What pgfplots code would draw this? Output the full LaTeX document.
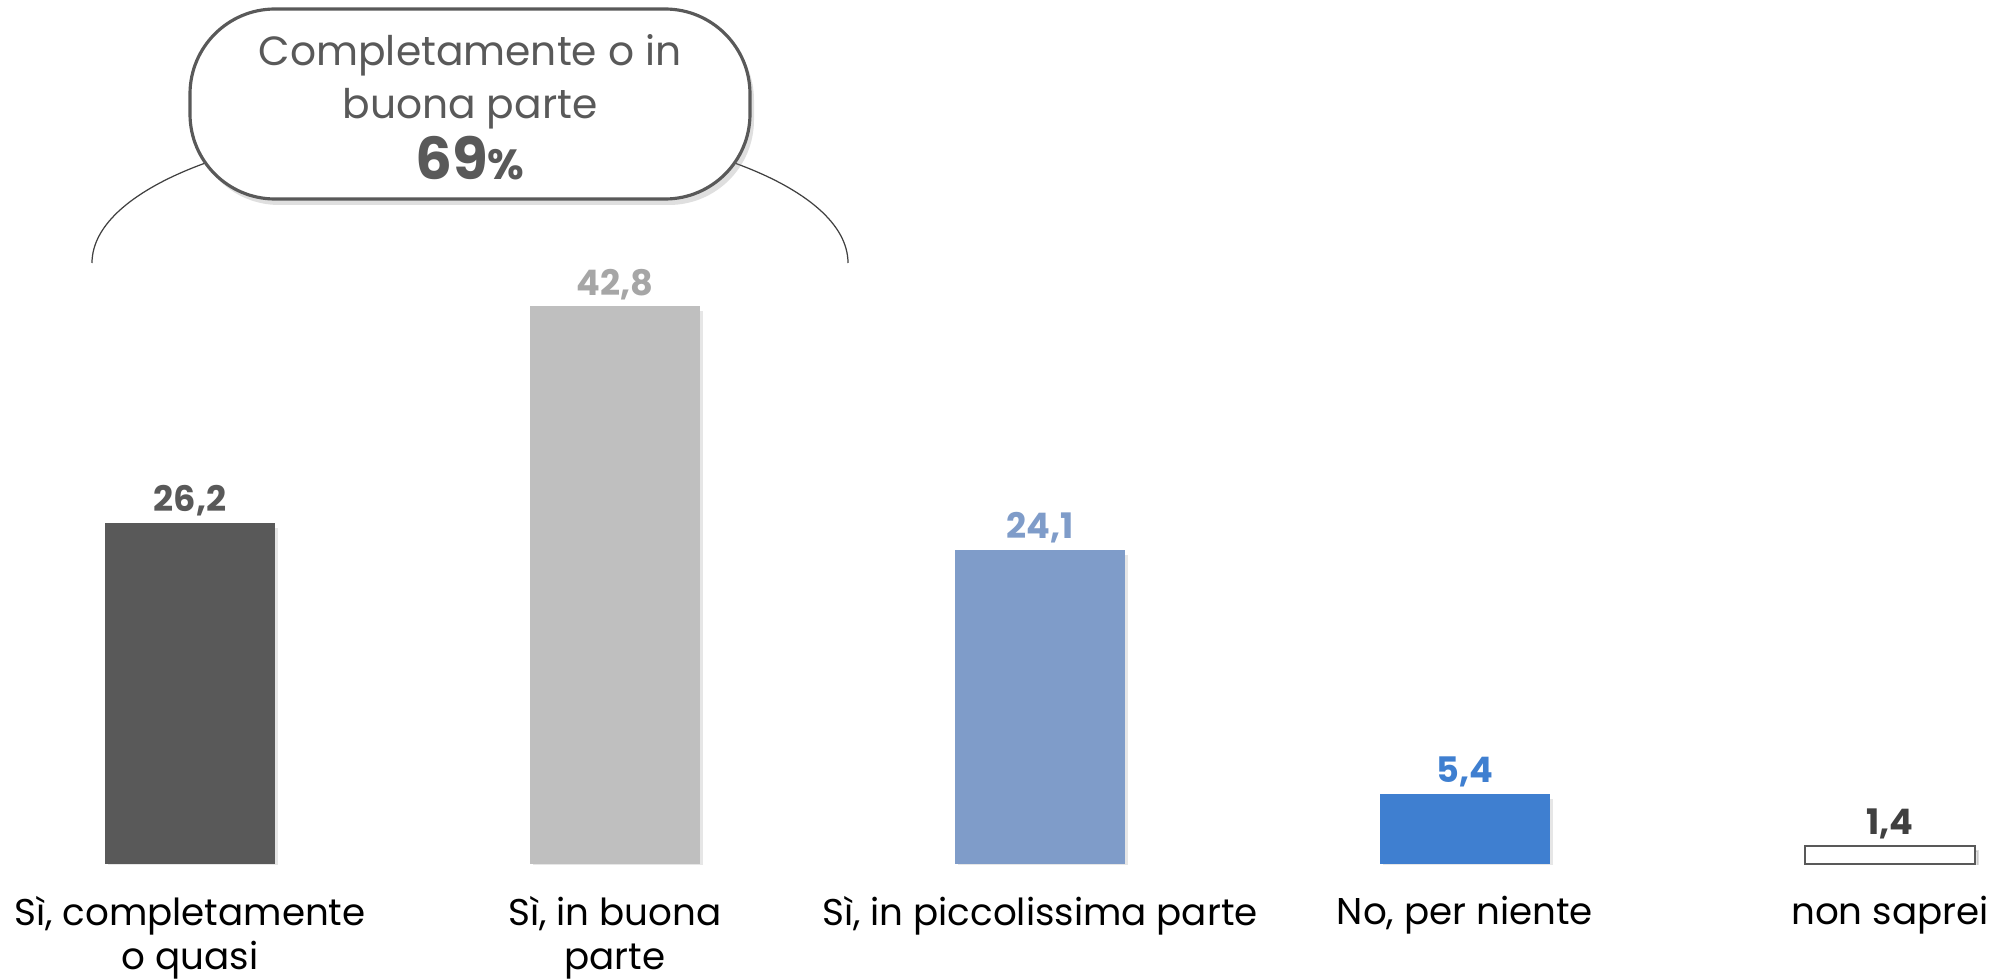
\documentclass[border=0pt]{standalone}
\usepackage{pgfplots}
\pgfplotsset{compat=1.18}
\usepackage{fontspec}
\setmainfont{Poppins}
\usetikzlibrary{shadows}

\definecolor{dgray}{HTML}{595959}
\definecolor{lgray}{HTML}{BFBFBF}
\definecolor{lgraytxt}{HTML}{A6A6A6}
\definecolor{bluegray}{HTML}{7F9CC9}
\definecolor{blue}{HTML}{3F7FD0}
\definecolor{txtdark}{HTML}{404040}

\pgfplotsset{
  barshade/.style={drop shadow={shadow xshift=0.3mm, shadow yshift=-0.5mm, opacity=0.2}},
}

\begin{document}
\begin{tikzpicture}
\begin{axis}[
    scale only axis,
    width=201.1mm, height=86.4mm,
    xmin=-0.447, xmax=4.285,
    ymin=0, ymax=66.3,
    ybar, bar width=17mm, bar shift=0pt,
    axis line style={draw=none},
    tick style={draw=none},
    ytick=\empty,
    xtick={0,1,2,3,4},
    xticklabels={{Sì, completamente\\o quasi},{Sì, in buona\\parte},{Sì, in piccolissima parte},{No, per niente},{non saprei}},
    xticklabel style={align=center, font=\fontsize{10.6}{12.4}\selectfont, text=black, yshift=-0.5mm},
    nodes near coords,
    /pgf/number format/.cd, use comma, fixed, fixed zerofill, precision=1, assume math mode=true,
    /pgfplots/.cd,
    every node near coord/.append style={font=\fontsize{10}{12}\selectfont\bfseries, yshift=-0.6mm},
  ]
  \addplot[fill=dgray, draw=none, barshade, nodes near coords style={text=dgray}] coordinates {(0,26.2)};
  \addplot[fill=lgray, draw=none, barshade, nodes near coords style={text=lgraytxt}] coordinates {(1,42.8)};
  \addplot[fill=bluegray, draw=none, barshade, nodes near coords style={text=bluegray}] coordinates {(2,24.1)};
  \addplot[fill=blue, draw=none, barshade, nodes near coords style={text=blue}] coordinates {(3,5.4)};
  \addplot[fill=white, draw=dgray, line width=0.7pt, barshade, nodes near coords style={text=txtdark}] coordinates {(4,1.4)};
\end{axis}
% bracket and callout
\draw[txtdark, line width=0.35pt] (9.2mm,60.1mm) arc[start angle=180, end angle=0, x radius=37.8mm, y radius=14mm];
\node[draw=dgray, line width=0.9pt, fill=white, rounded corners=8.5mm,
      minimum width=56mm, minimum height=19mm,
      drop shadow={shadow xshift=0.4mm, shadow yshift=-0.6mm, opacity=0.25}]
  at (47mm,76mm) {};
\node[align=center, text=dgray, font=\fontsize{11.6}{15}\selectfont, inner sep=0pt]
  at (47mm,75.7mm) {Completamente o in\\buona parte\\[0.35mm]{\fontsize{16.5}{16}\selectfont\bfseries 69}{\fontsize{12}{12}\selectfont\bfseries\%}};
\pgfresetboundingbox
\path (0,-11.4mm) rectangle (201.1mm,86.4mm);
\end{tikzpicture}
\end{document}
